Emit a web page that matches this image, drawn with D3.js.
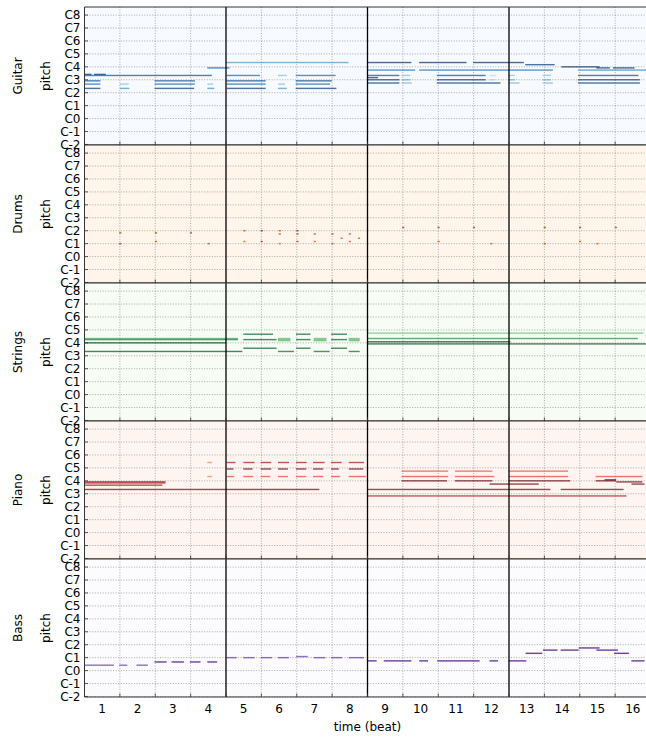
<!DOCTYPE html>
<html><head><meta charset="utf-8">
<script src="https://cdn.jsdelivr.net/npm/d3@7"></script>
<style>
body{margin:0;background:#fff;overflow:hidden}
svg{display:block}
text{font-family:"DejaVu Sans",sans-serif;fill:#000}
</style>
</head><body>
<svg id="chart" width="646" height="737"></svg>
<script>
// ---------- data ----------
const trackNames = ["Guitar", "Drums", "Strings", "Piano", "Bass"];
const beatLabels = ["1","2","3","4","5","6","7","8","9","10","11","12","13","14","15","16"];
const pitchTicks = [0, 12, 24, 36, 48, 60, 72, 84, 96, 108, 120];
const pitchLabels = ["C-2","C-1","C0","C1","C2","C3","C4","C5","C6","C7","C8"];
const downbeats = [4, 8, 12];

// notes: [startBeat, endBeat, pitch, velocity]
const guitarNotes = [
  [0,0.2,65,127],[0.27,0.6,65,127],[0,3.6,64,110],
  [0,0.45,59,110],[0,0.45,56,100],[0,0.45,52,120],
  [1.0,1.25,56,55],[1.0,1.27,52,80],
  [1.98,3.12,59,110],[1.98,3.12,56,100],[1.98,3.1,52,120],
  [3.47,3.64,56,55],[3.47,3.67,52,80],[3.47,4.1,71,100],
  [4.0,7.46,76,75],
  [4.02,4.96,64,100],[5.47,5.72,64,55],[5.97,7.1,64,100],
  [4.02,5.12,59,115],[5.97,6.99,59,115],
  [4.02,5.12,56,100],[5.47,5.67,56,55],[5.97,6.94,56,100],
  [4.02,5.12,52,120],[5.47,5.72,52,75],[5.97,7.12,52,120],
  [7.99,9.24,76,127],[9.46,10.8,76,127],[10.98,12.42,76,127],
  [12.46,13.29,74,120],[13.48,14.56,72,127],[14.47,14.85,71,127],[14.94,15.55,71,127],
  [7.99,9.35,69,95],[9.46,13.24,69,95],[13.95,15.9,69,85],
  [8.0,8.9,64,110],[8.96,9.21,64,55],[9.96,11.34,64,110],[11.45,11.64,64,35],
  [11.99,12.16,64,55],[12.95,13.18,64,55],[13.95,15.66,64,110],
  [8.0,8.3,62,127],
  [8.0,8.9,60,120],[8.96,9.21,60,65],[9.96,11.34,60,120],[11.45,11.6,60,45],
  [11.99,12.16,60,65],[12.95,13.18,60,65],[13.95,15.7,60,120],
  [8.0,8.9,57,120],[8.96,9.25,57,60],[9.96,11.76,57,120],[11.99,12.3,57,60],
  [12.95,13.24,57,60],[13.95,15.7,57,120]
];
// drum hits: [beat, pitch, velocity]
const drumHits = [
  [0.98,46,110],[0.98,36,110],[1.99,46,110],[1.99,38,100],[2.98,46,110],[3.48,36,100],
  [4.49,48,100],[4.49,38,90],[4.98,48,120],[4.98,38,120],[5.49,48,100],[5.49,45,100],[5.49,36,90],
  [5.99,48,120],[5.99,45,110],[5.99,38,110],[6.48,45,100],[6.48,38,90],[6.98,45,110],[6.98,36,100],
  [7.24,41,90],[7.47,45,100],[7.47,38,90],[7.73,41,90],
  [8.98,51,110],[9.98,51,110],[9.98,38,100],[10.98,51,110],[11.47,36,90],
  [12.98,51,110],[12.98,36,100],[13.98,51,110],[13.98,38,100],[14.47,36,90],[14.99,51,110]
];
const stringsNotes = [
  [0,4.34,76,80],[0,4.34,75,100],[0,4.0,72,127],[0,4.46,64,120],
  [4.49,5.33,80,115],[5.98,6.39,80,115],[6.97,7.42,80,115],
  [4.49,5.43,75,115],[5.98,6.39,75,115],[6.97,7.42,75,115],
  [5.47,5.82,76,70],[5.47,5.82,75,70],[5.47,5.82,74,70],
  [6.48,6.84,76,70],[6.48,6.84,75,70],[6.48,6.84,74,70],
  [7.47,7.78,76,70],[7.47,7.78,75,70],[7.47,7.78,74,70],
  [4.49,5.43,67,115],[5.98,6.39,67,115],[6.97,7.42,67,115],
  [5.47,5.92,64,110],[6.48,6.93,64,110],[7.47,7.78,64,110],
  [7.99,15.8,81,65],[7.99,15.64,76,95],[7.99,12.04,73,127],[7.99,16,71,120]
];
const pianoNotes = [
  [0,2.29,71,127],[0,2.29,70,100],[0,2.2,68,115],[0,6.64,64,125],
  [3.47,3.6,89,60],[3.47,3.6,76,60],
  [4.02,4.27,89,110],[4.49,4.81,89,110],[4.98,5.28,89,110],[5.47,5.78,89,110],
  [5.98,6.28,89,110],[6.46,6.79,89,110],[6.97,7.27,89,110],[7.47,7.9,89,110],
  [4.02,4.21,83,127],[4.49,4.75,83,127],[4.98,5.28,83,127],[5.47,5.75,83,127],
  [5.98,6.27,83,127],[6.46,6.75,83,127],[6.97,7.19,83,127],[7.47,7.88,83,127],
  [4.02,4.23,76,80],[4.49,4.77,76,80],[4.98,5.25,76,80],[5.47,5.75,76,80],
  [5.98,6.27,76,80],[6.46,6.75,76,80],[6.97,7.23,76,80],[7.47,7.96,76,80],
  [8.96,10.28,81,75],[10.47,11.53,81,75],[11.99,13.67,81,75],
  [8.96,10.28,76,80],[10.47,11.58,76,80],[11.99,13.67,76,80],[14.45,15.77,76,80],
  [8.96,10.25,72,127],[10.47,11.53,72,127],[11.99,13.73,72,127],[14.45,15.03,72,127],
  [14.7,15.03,73,127],[15.03,15.77,71,127],
  [11.45,12.84,69,127],[15.46,15.83,69,127],
  [7.99,13.17,64,125],[13.46,15.24,64,125],
  [7.99,15.32,58,105]
];
const bassNotes = [
  [0,0.83,29,100],[0.98,1.21,29,100],[1.47,1.79,29,100],
  [1.98,2.32,32,127],[2.46,2.81,32,127],[2.98,3.28,32,127],[3.47,3.75,32,127],
  [4.02,4.3,36,100],[4.49,4.81,36,100],[4.98,5.3,36,100],[5.47,5.78,36,100],
  [5.98,6.31,37,100],[6.48,6.81,36,100],[6.97,7.28,36,100],[7.47,7.9,36,100],
  [7.99,8.26,33,127],[8.46,9.24,33,127],[9.46,9.71,33,127],[9.97,11.17,33,127],
  [11.45,11.69,33,127],[11.99,12.49,33,127],
  [12.47,12.94,40,127],[12.96,13.37,43,127],[13.46,13.97,43,127],[13.97,14.56,45,127],
  [14.47,15.08,43,127],[14.97,15.39,40,127],[15.46,15.83,33,127]
];
const drumDuration = 0.06;

// ---------- layout ----------
const svg = d3.select("#chart");
const left = 84.5, right = 650.5, top0 = 7, trackH = 138;
const x = d3.scaleLinear().domain([0, 16]).range([left, right]);
const cmaps = [d3.interpolateBlues, d3.interpolateOranges, d3.interpolateGreens, d3.interpolateReds, d3.interpolatePurples];
const drumNotes = drumHits.map(d => [d[0], d[0] + drumDuration, d[1], d[2]]);
const tracks = [guitarNotes, drumNotes, stringsNotes, pianoNotes, bassNotes];
const noteOpacity = [0.72, 0.8, 0.72, 0.7, 0.75];

svg.append("defs").append("clipPath").attr("id", "plotclip")
  .append("rect").attr("x", left).attr("y", top0).attr("width", right - left).attr("height", trackH * 5);

tracks.forEach((notes, i) => {
  const t = top0 + i * trackH, b = t + trackH;
  const y = d3.scaleLinear().domain([-0.5, 127.5]).range([b, t]);
  const cmap = cmaps[i];
  const g = svg.append("g");
  g.append("rect").attr("x", left).attr("y", t).attr("width", right - left).attr("height", trackH)
    .attr("fill", cmap(0));
  const pg = g.append("g").attr("clip-path", "url(#plotclip)");
  pg.selectAll(".hg").data(pitchTicks).join("line")
    .attr("x1", left).attr("x2", right).attr("y1", d => y(d)).attr("y2", d => y(d))
    .attr("stroke", "#888").attr("stroke-width", 0.7).attr("stroke-dasharray", "1,1.6");
  pg.selectAll(".vg").data(d3.range(1, 16).filter(v => !downbeats.includes(v))).join("line")
    .attr("x1", d => x(d)).attr("x2", d => x(d)).attr("y1", t).attr("y2", b)
    .attr("stroke", "#888").attr("stroke-width", 0.7).attr("stroke-dasharray", "1,1.6");
  pg.selectAll(".n").data(notes).join("rect")
    .attr("x", d => x(d[0])).attr("width", d => Math.max(1.2, x(d[1]) - x(d[0])))
    .attr("y", d => y(d[2]) - 0.7).attr("height", 1.4)
    .attr("fill", d => cmap(d[3] / 127)).attr("fill-opacity", noteOpacity[i]);
  pg.selectAll(".db").data(downbeats).join("line")
    .attr("x1", d => x(d)).attr("x2", d => x(d)).attr("y1", t).attr("y2", b)
    .attr("stroke", "#000").attr("stroke-width", 1.3);
  g.selectAll(".xt").data(d3.range(1, 17)).join("line")
    .attr("x1", d => x(d)).attr("x2", d => x(d)).attr("y1", b).attr("y2", b - 3.5)
    .attr("stroke", "#333").attr("stroke-width", 0.8);
  g.selectAll(".yt").data(pitchTicks).join("line")
    .attr("x1", left).attr("x2", left + 3.5).attr("y1", d => y(d)).attr("y2", d => y(d))
    .attr("stroke", "#333").attr("stroke-width", 0.8);
  g.append("line").attr("x1", left).attr("x2", right).attr("y1", t).attr("y2", t).attr("stroke", "#333").attr("stroke-width", 1);
  g.append("line").attr("x1", left).attr("x2", right).attr("y1", b).attr("y2", b).attr("stroke", "#333").attr("stroke-width", 1);
  g.append("line").attr("x1", left).attr("x2", left).attr("y1", t).attr("y2", b).attr("stroke", "#333").attr("stroke-width", 1);
  g.selectAll(".yl").data(pitchTicks).join("text")
    .attr("x", left - 4).attr("y", d => y(d)).attr("dy", "0.36em")
    .attr("text-anchor", "end").attr("font-size", 12)
    .text((d, k) => pitchLabels[k]);
  g.append("text").attr("transform", `translate(${46},${(t + b) / 2}) rotate(-90)`)
    .attr("text-anchor", "middle").attr("dy", "0.36em").attr("font-size", 12).text("pitch");
  g.append("text").attr("transform", `translate(${18},${(t + b) / 2}) rotate(-90)`)
    .attr("text-anchor", "middle").attr("dy", "0.36em").attr("font-size", 12).text(trackNames[i]);
});

const bottom = top0 + 5 * trackH;
svg.selectAll(".xl").data(beatLabels).join("text")
  .attr("x", (d, k) => x(k + 0.5)).attr("y", bottom + 12).attr("dy", "0.36em")
  .attr("text-anchor", "middle").attr("font-size", 12).text(d => d);
svg.append("text").attr("x", (left + right) / 2).attr("y", bottom + 30).attr("dy", "0.36em")
  .attr("text-anchor", "middle").attr("font-size", 12).text("time (beat)");
</script>
</body></html>
